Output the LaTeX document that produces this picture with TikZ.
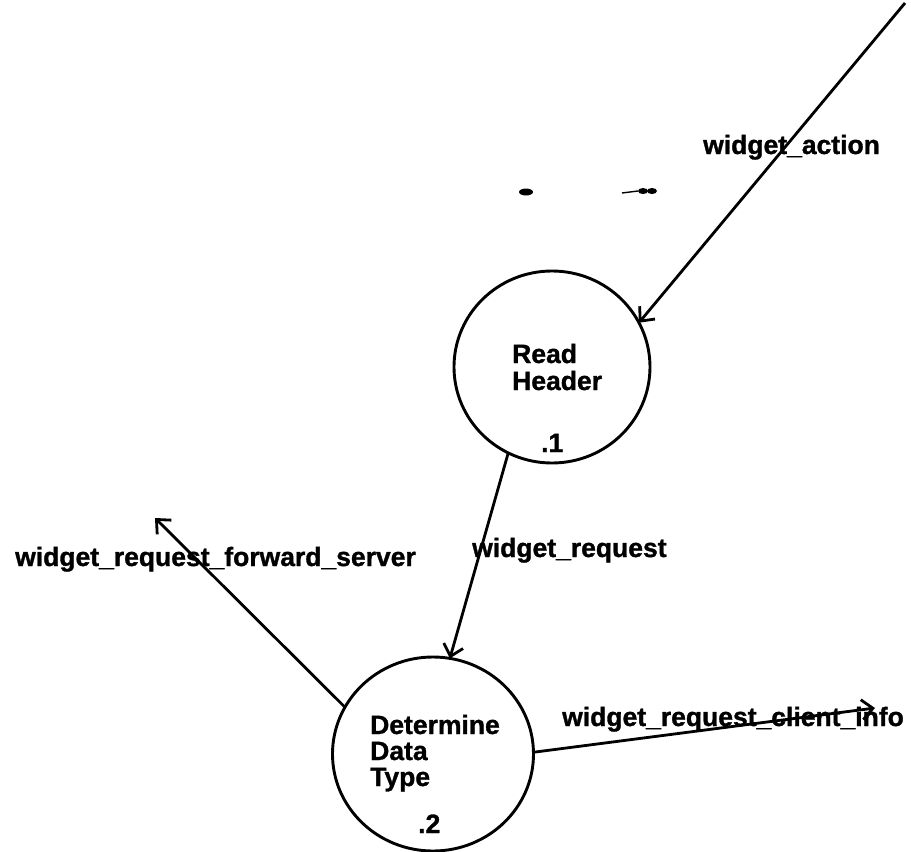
\documentclass[tikz,border=0pt]{standalone}
\usepackage{fontspec}
\setmainfont{Liberation Sans}[BoldFeatures={FakeBold=1.2}]
\usetikzlibrary{arrows.meta,shapes.geometric}
\tikzset{
  bubble/.style={draw, ellipse, line width=2.9pt, inner sep=0pt, outer sep=0pt},
  lbl/.style={anchor=base west, inner sep=0pt, font=\fontsize{26.5}{27}\selectfont\bfseries},
  flow/.style={line width=2.8pt, -{Straight Barb[length=11pt,width=20pt,line width=2.8pt]}},
}
\begin{document}
\begin{tikzpicture}[x=1pt,y=-1pt]
\useasboundingbox (0,0) rectangle (911,852);
% processes
\node[bubble, minimum width=196pt, minimum height=192pt] (rh) at (552,367) {};
\node[bubble, minimum width=201pt, minimum height=194pt] (dd) at (433,754) {};
% process texts
\node[lbl] (rh1) at (512,363) {Read};
\node[lbl] (rh2) at (512,390) {Header};
\node[lbl] (rhn) at (541,452) {.1};
\node[lbl] (dd1) at (370,734) {Determine};
\node[lbl] (dd2) at (370,760) {Data};
\node[lbl] (dd3) at (370,786) {Type};
\node[lbl] (ddn) at (418,833) {.2};
% free ends
\coordinate (src) at (905,3);
\coordinate (fwd) at (155,518);
\coordinate (cli) at (875,708);
% flows
\draw[flow] (src) -- (rh.27);
\draw[flow] (rh.243) -- (dd.80);
\draw[flow] (dd.152) -- (fwd);
\draw[flow] (dd.1) -- (cli);
% flow labels
\node[lbl] (la) at (703,154) {widget\_action};
\node[lbl] (lr) at (472,557) {widget\_request};
\node[lbl] (lf) at (15,566) {widget\_request\_forward\_server};
\node[lbl] (lc) at (562,726) {widget\_request\_client\_info};
% small specks
\fill (526,192) ellipse (7pt and 3.5pt);
\draw[line width=1.4pt] (622,193) -- (638,191);
\fill (643,191) ellipse (5pt and 3pt);
\fill (652,191) ellipse (5pt and 3pt);
\end{tikzpicture}
\end{document}
